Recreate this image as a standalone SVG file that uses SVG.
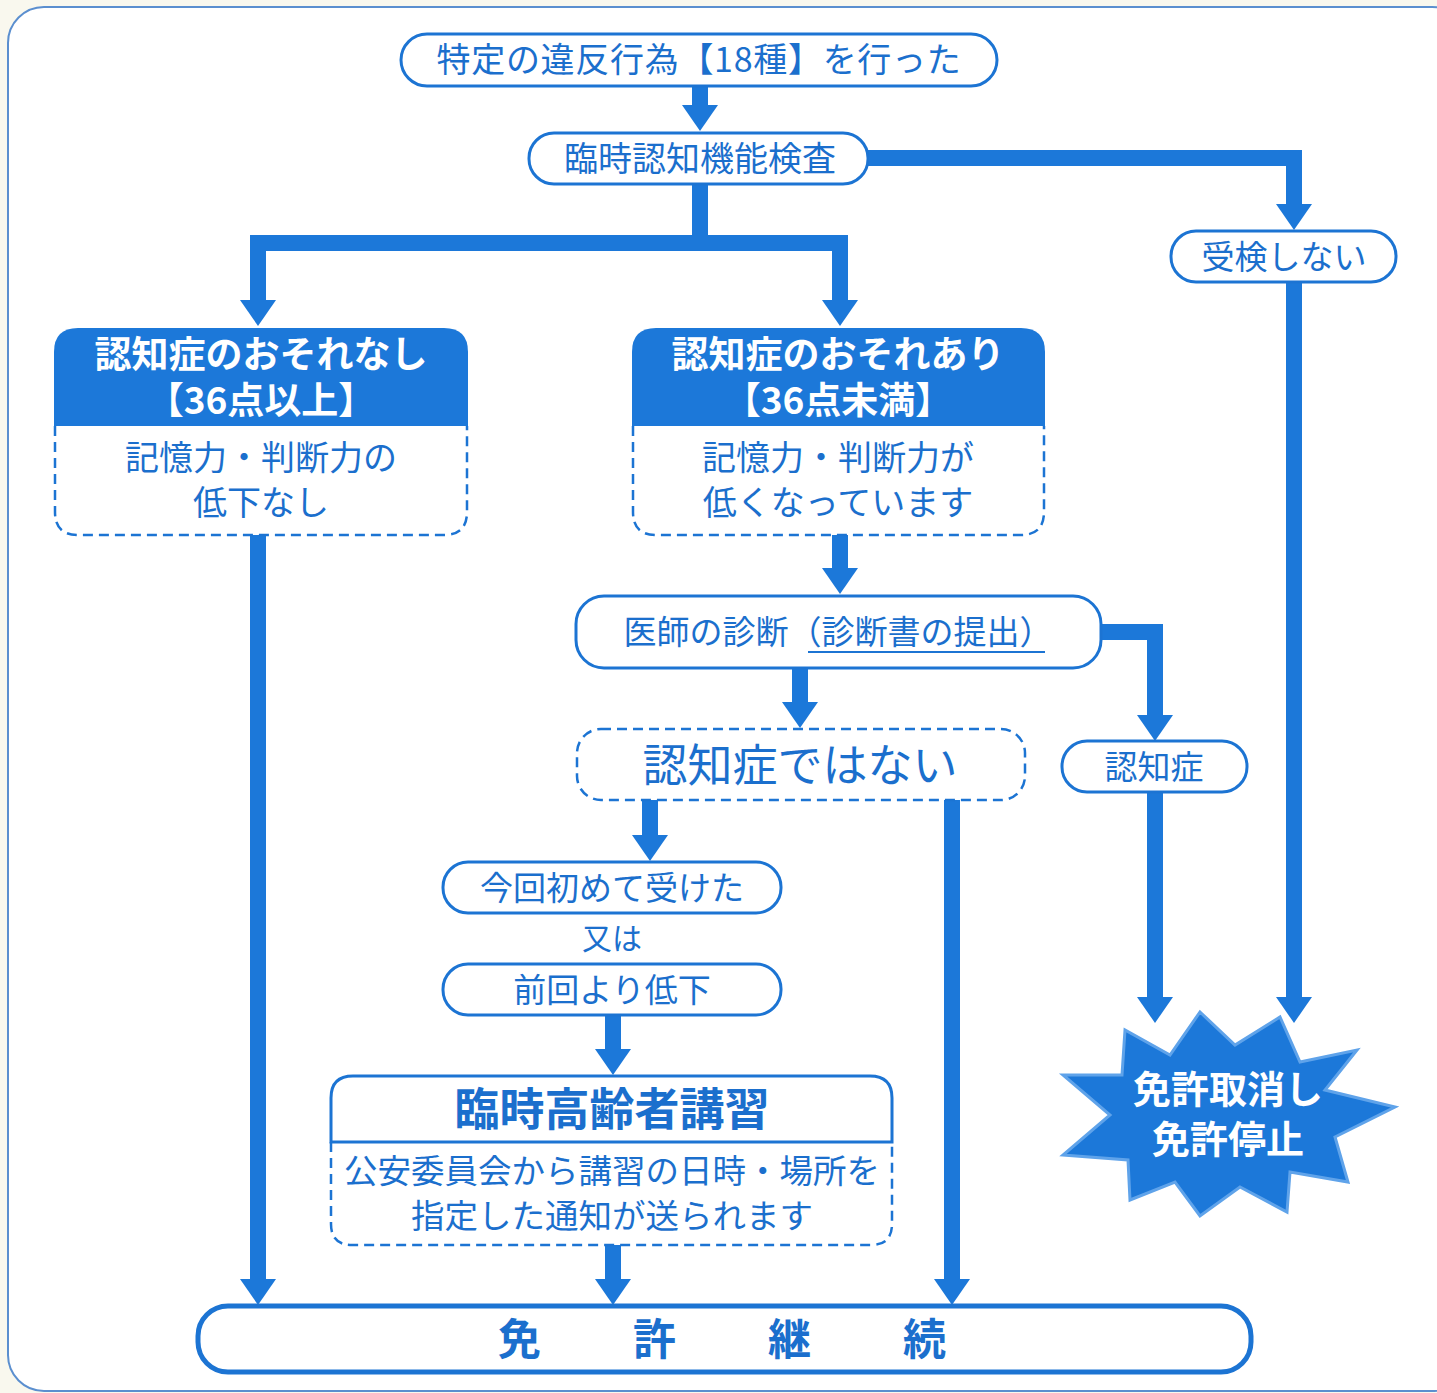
<svg xmlns="http://www.w3.org/2000/svg" width="1437" height="1393" viewBox="0 0 1437 1393">
<defs>
<style>
.box{fill:#fff;stroke:#1c74d3;stroke-width:3}
.dash{fill:none;stroke:#1c74d3;stroke-width:2.5;stroke-dasharray:10 6}
.hdr{fill:#1c78d9}
.t{font-family:"Noto Sans CJK JP","Noto Sans",sans-serif;fill:#1b6fcd;text-anchor:middle}
.w{fill:#fff;font-weight:700}
.b{font-weight:700}
.c{fill:none;stroke:#1c78d9;stroke-width:16;stroke-linejoin:miter}
</style>
<marker id="ah" markerUnits="userSpaceOnUse" markerWidth="26" markerHeight="36" viewBox="0 0 26 36" refX="1" refY="18" orient="auto">
<path d="M0,0 L26,18 L0,36 Z" fill="#1c78d9"/>
</marker>
</defs>
<rect width="1437" height="1393" fill="#f9f8ee"/>
<rect x="8" y="7" width="1460" height="1384" rx="36" fill="#fff" stroke="#5b8fcf" stroke-width="2"/>

<g id="connectors">
<path class="c" d="M700,86 V106" marker-end="url(#ah)"/>
<path class="c" d="M700,184 V243 H258 V301" marker-end="url(#ah)"/>
<path class="c" d="M700,243 H840 V301" marker-end="url(#ah)"/>
<path class="c" d="M868,158 H1294 V205" marker-end="url(#ah)"/>
<path class="c" d="M1294,282 V998" marker-end="url(#ah)"/>
<path class="c" d="M258,535 V1280" marker-end="url(#ah)"/>
<path class="c" d="M840,535 V569" marker-end="url(#ah)"/>
<path class="c" d="M1101,632 H1155 V716" marker-end="url(#ah)"/>
<path class="c" d="M1155,792 V998" marker-end="url(#ah)"/>
<path class="c" d="M800,668 V703" marker-end="url(#ah)"/>
<path class="c" d="M650,800 V836" marker-end="url(#ah)"/>
<path class="c" d="M952,800 V1280" marker-end="url(#ah)"/>
<path class="c" d="M613,1015 V1050" marker-end="url(#ah)"/>
<path class="c" d="M613,1245 V1280" marker-end="url(#ah)"/>
</g>

<g id="n-violation">
<rect class="box" x="401" y="34" width="596" height="52" rx="26"/>
<text class="t" x="699" y="72" font-size="34" letter-spacing="0.7">特定の違反行為【18種】を行った</text>
</g>

<g id="n-test">
<rect class="box" x="529" y="133" width="339" height="51" rx="25"/>
<text class="t" x="700" y="171" font-size="34">臨時認知機能検査</text>
</g>

<g id="n-notake">
<rect class="box" x="1171" y="231" width="225" height="51" rx="25"/>
<text class="t" x="1284" y="269" font-size="33">受検しない</text>
</g>

<g id="n-nofear">
<path class="hdr" d="M54,352 Q54,328 78,328 H444 Q468,328 468,352 V426 H54 Z"/>
<path class="dash" d="M55,426 V512 Q55,535 78,535 H444 Q467,535 467,512 V426"/>
<text class="t w" font-size="37"><tspan x="261" y="368">認知症のおそれなし</tspan><tspan x="261" y="414">【36点以上】</tspan></text>
<text class="t" font-size="34"><tspan x="261" y="470">記憶力・判断力の</tspan><tspan x="261" y="515">低下なし</tspan></text>
</g>

<g id="n-fear">
<path class="hdr" d="M632,352 Q632,328 656,328 H1021 Q1045,328 1045,352 V426 H632 Z"/>
<path class="dash" d="M633,426 V512 Q633,535 656,535 H1021 Q1044,535 1044,512 V426"/>
<text class="t w" font-size="37"><tspan x="838" y="368">認知症のおそれあり</tspan><tspan x="838" y="414">【36点未満】</tspan></text>
<text class="t" font-size="34"><tspan x="838" y="470">記憶力・判断力が</tspan><tspan x="838" y="515">低くなっています</tspan></text>
</g>

<g id="n-diagnosis">
<rect class="box" x="576" y="596" width="525" height="72" rx="28"/>
<text class="t" x="838" y="644" font-size="33">医師の診断（診断書の提出）</text>
<line x1="808" y1="652" x2="1045" y2="652" stroke="#1c74d3" stroke-width="2"/>
</g>

<g id="n-notdementia">
<rect class="dash" x="577" y="729" width="448" height="71" rx="24"/>
<text class="t" x="800" y="782" font-size="45">認知症ではない</text>
</g>

<g id="n-dementia">
<rect class="box" x="1062" y="741" width="185" height="51" rx="25"/>
<text class="t" x="1154" y="779" font-size="33">認知症</text>
</g>

<g id="n-first">
<rect class="box" x="443" y="862" width="338" height="51" rx="25"/>
<text class="t" x="612" y="900" font-size="33">今回初めて受けた</text>
</g>

<text class="t" x="612" y="949" font-size="30">又は</text>

<g id="n-decline">
<rect class="box" x="443" y="964" width="338" height="51" rx="25"/>
<text class="t" x="612" y="1002" font-size="33">前回より低下</text>
</g>

<g id="n-lecture">
<path class="box" d="M331,1142 V1098 Q331,1076 353,1076 H870 Q892,1076 892,1098 V1142 Z"/>
<path class="dash" d="M331,1142 V1224 Q331,1245 352,1245 H871 Q892,1245 892,1224 V1142"/>
<text class="t b" x="612" y="1126" font-size="45">臨時高齢者講習</text>
<text class="t" font-size="33.5"><tspan x="612" y="1183">公安委員会から講習の日時・場所を</tspan><tspan x="612" y="1228">指定した通知が送られます</tspan></text>
</g>

<g id="n-revoke">
<polygon points="1200,1012 1235,1045 1280,1017 1300,1062 1357,1050 1325,1090 1395,1107 1335,1137 1348,1182 1290,1172 1287,1212 1240,1187 1200,1216 1175,1182 1130,1200 1128,1160 1063,1155 1110,1115 1063,1075 1122,1075 1125,1030 1170,1055" fill="#1c78d9" stroke="#5fa3ea" stroke-width="3" stroke-linejoin="miter"/>
<text class="t w" font-size="38"><tspan x="1228" y="1103">免許取消し</tspan><tspan x="1228" y="1153">免許停止</tspan></text>
</g>

<g id="n-continue">
<rect x="198" y="1306" width="1053" height="66" rx="30" fill="#fff" stroke="#1c74d3" stroke-width="5"/>
<text x="498" y="1355" font-size="43" font-weight="700" letter-spacing="24.5" font-family="Noto Sans CJK JP,Noto Sans,sans-serif" fill="#1b6fcd">免　許　継　続</text>
</g>
</svg>
